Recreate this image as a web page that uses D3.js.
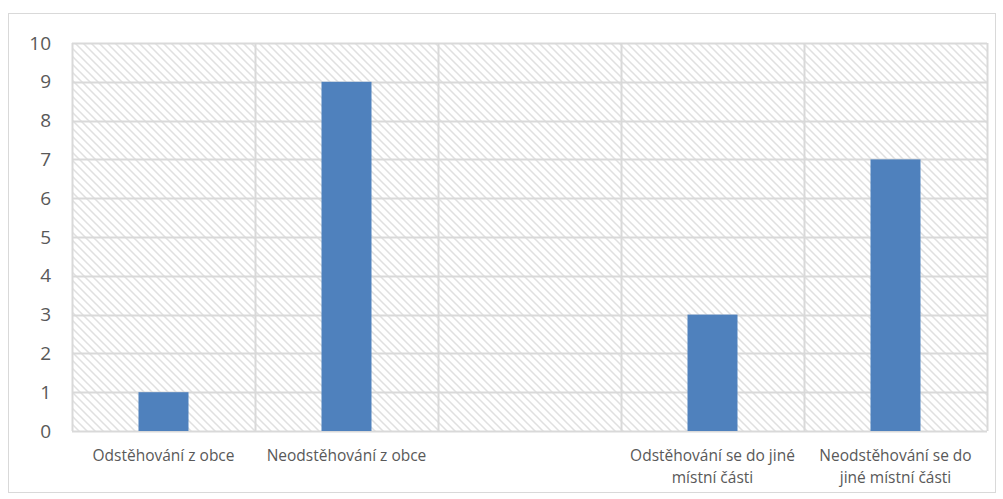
<!DOCTYPE html>
<html>
<head>
<meta charset="utf-8">
<script src="https://cdn.jsdelivr.net/npm/d3@7"></script>
<style>
  html, body { margin: 0; padding: 0; background: #fff; }
  svg { display: block; }
</style>
</head>
<body>
<svg id="chart" width="1003" height="499"></svg>
<script>
const categories = [
  "Odstěhování z obce",
  "Neodstěhování z obce",
  "",
  "Odstěhování se do jiné\nmístní části",
  "Neodstěhování se do\njiné místní části"
];
const values = [1, 9, null, 3, 7];
const yTicks = [0, 1, 2, 3, 4, 5, 6, 7, 8, 9, 10];

const plot = { left: 72, right: 987, top: 43, bottom: 431 };
const svg = d3.select('#chart');

// hatch pattern for plot background
const defs = svg.append('defs');
const pat = defs.append('pattern')
  .attr('id', 'hatch')
  .attr('patternUnits', 'userSpaceOnUse')
  .attr('width', 8).attr('height', 8);
pat.append('rect').attr('width', 8).attr('height', 8).attr('fill', '#fff');
pat.append('path')
  .attr('d', 'M-2,-2 L10,10 M-2,6 L2,10 M6,-2 L10,2')
  .attr('stroke', '#e0e0e0').attr('stroke-width', 1.5);

// chart border
svg.append('rect')
  .attr('x', 8.5).attr('y', 13.5)
  .attr('width', 987).attr('height', 479)
  .attr('fill', '#fff').attr('stroke', '#d9d9d9').attr('stroke-width', 1);

const x = d3.scaleBand().domain(d3.range(categories.length))
  .range([plot.left, plot.right]).paddingInner(0).paddingOuter(0);
const y = d3.scaleLinear().domain([0, 10]).range([plot.bottom, plot.top]);

svg.append('rect')
  .attr('x', plot.left).attr('y', plot.top)
  .attr('width', plot.right - plot.left).attr('height', plot.bottom - plot.top)
  .attr('fill', 'url(#hatch)');

// horizontal gridlines
svg.append('g').selectAll('line').data(yTicks).enter().append('line')
  .attr('x1', plot.left).attr('x2', plot.right)
  .attr('y1', d => Math.round(y(d)) + 0.5).attr('y2', d => Math.round(y(d)) + 0.5)
  .attr('stroke', '#d9d9d9').attr('stroke-width', 2);

// vertical gridlines at category boundaries
const bounds = d3.range(categories.length + 1).map(i => plot.left + i * x.bandwidth());
svg.append('g').selectAll('line').data(bounds).enter().append('line')
  .attr('x1', d => Math.round(d) + 0.5).attr('x2', d => Math.round(d) + 0.5)
  .attr('y1', plot.top).attr('y2', plot.bottom)
  .attr('stroke', '#d9d9d9').attr('stroke-width', 2);

// bars
const barW = 50;
svg.append('g').selectAll('rect')
  .data(values.map((v, i) => ({ v, i })).filter(d => d.v != null))
  .enter().append('rect')
  .attr('x', d => x(d.i) + x.bandwidth() / 2 - barW / 2)
  .attr('y', d => y(d.v))
  .attr('width', barW)
  .attr('height', d => y(0) - y(d.v))
  .attr('fill', '#4f81bd');

// y axis labels
svg.append('g').selectAll('text').data(yTicks).enter().append('text')
  .attr('x', 51).attr('y', d => y(d))
  .attr('dy', '0.35em')
  .attr('text-anchor', 'end')
  .attr('font-family', '"Open Sans", sans-serif')
  .attr('font-size', 19)
  .attr('fill', '#595959')
  .text(d => d);

// x axis labels
const xl = svg.append('g').selectAll('text').data(categories).enter().append('text')
  .attr('text-anchor', 'middle')
  .attr('font-family', '"Open Sans", sans-serif')
  .attr('font-size', 15.5)
  .attr('fill', '#595959');
xl.each(function(d, i){
  const lines = d.split('\n');
  const t = d3.select(this);
  lines.forEach((ln, k) => {
    t.append('tspan')
      .attr('x', x(i) + x.bandwidth() / 2)
      .attr('y', 461 + k * 22)
      .text(ln);
  });
});
</script>
</body>
</html>
